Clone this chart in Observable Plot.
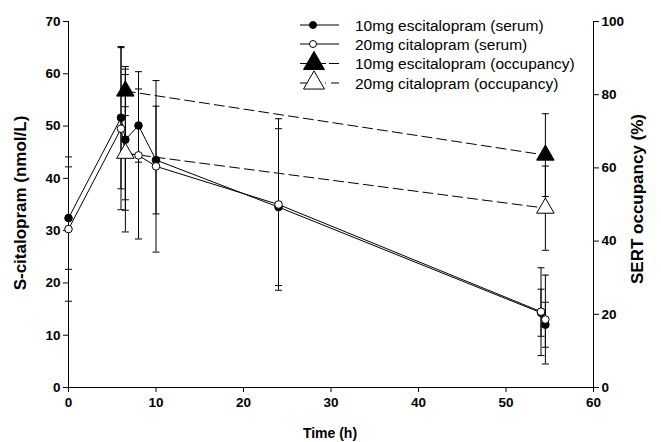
<!DOCTYPE html>
<html><head><meta charset="utf-8">
<script src="https://cdn.jsdelivr.net/npm/d3@7"></script>
<script src="https://cdn.jsdelivr.net/npm/@observablehq/plot@0.6"></script>
<style>
body{margin:0;background:#fff;}
#wrap{position:relative;width:661px;height:442px;font-family:"Liberation Sans",Arial,sans-serif;color:#000;}
.title{position:absolute;white-space:nowrap;font-weight:bold;transform:translate(-50%,-50%);}
.rot{transform:translate(-50%,-50%) rotate(-90deg);}
#legend{position:absolute;left:0;top:0;}
</style>
</head><body><div id="wrap"></div>
<script>
// ---- data ----
const serumTimes = [0, 6, 6.5, 8, 10, 24, 54, 54.5];
const escSerum   = [32.4, 51.6, 47.4, 50.1, 43.5, 34.5, 14.3, 12.0];
const escSerumSD = [9.8, 13.6, 13.5, 7.0, 10.3, 15.0, 4.5, 4.3];
const citSerum   = [30.3, 49.5, 44.8, 44.4, 42.3, 35.0, 14.5, 13.0];
const citSerumSD = [13.8, 15.5, 8.9, 16.0, 16.4, 16.4, 8.4, 8.5];
const occTimes   = [6.5, 54.5];
const escOcc     = [81, 63.5];
const escOccSD   = [6.7, 11.3];
const citOcc     = [64, 49];
const citOccSD   = [21.5, 11.5];
const leftTicks  = [0, 10, 20, 30, 40, 50, 60, 70];
const rightTicks = [0, 20, 40, 60, 80, 100];
const xTicks     = [0, 10, 20, 30, 40, 50, 60];
const seriesNames = ["10mg escitalopram (serum)", "20mg citalopram (serum)",
                     "10mg escitalopram (occupancy)", "20mg citalopram (occupancy)"];
const xLabel = "Time (h)", yLabel = "S-citalopram (nmol/L)", y2Label = "SERT occupancy (%)";

const k = 70 / 100; // occupancy (right axis) -> left axis units
const mk = (ts, vs, sds, f = 1) => ts.map((t, i) => ({t, v: vs[i] * f, sd: sds[i] * f}));
const escS = mk(serumTimes, escSerum, escSerumSD);
const citS = mk(serumTimes, citSerum, citSerumSD);
const escO = mk(occTimes, escOcc, escOccSD, k);
const citO = mk(occTimes, citOcc, citOccSD, k);
const all = [...escS, ...citS, ...escO, ...citO];
const caps = all.flatMap(d => [{t: d.t, y: d.v - d.sd}, {t: d.t, y: d.v + d.sd}]);
const capSym = {draw(ctx, size) { const w = Math.sqrt(size / Math.PI); ctx.moveTo(-w, 0); ctx.lineTo(w, 0); }};

const chart = Plot.plot({
  width: 661, height: 442,
  marginLeft: 68, marginRight: 68, marginTop: 21, marginBottom: 55,
  style: {fontFamily: "Liberation Sans, Arial, sans-serif", fontSize: "13.5px", fontWeight: "bold", color: "black", background: "white"},
  x: {domain: [0, 60]},
  y: {domain: [0, 70]},
  marks: [
    Plot.ruleY([0], {stroke: "black"}),
    Plot.ruleX([0], {stroke: "black"}),
    Plot.ruleX([60], {stroke: "black"}),
    Plot.axisX(xTicks, {anchor: "bottom", tickSize: 5, tickPadding: 5, label: null}),
    Plot.axisY(leftTicks, {anchor: "left", tickSize: 5, tickPadding: 3, label: null}),
    Plot.axisY(rightTicks.map(v => v * k), {anchor: "right", tickSize: 5, tickPadding: 3, label: null, tickFormat: d => Math.round(d / k)}),
    Plot.ruleX(all, {x: "t", y1: d => d.v - d.sd, y2: d => d.v + d.sd, stroke: "black", strokeWidth: 1}),
    Plot.dot(caps, {x: "t", y: "y", symbol: capSym, r: 3.5, stroke: "black", fill: "none", strokeWidth: 1}),
    Plot.line(escS, {x: "t", y: "v", stroke: "black", strokeWidth: 1}),
    Plot.line(citS, {x: "t", y: "v", stroke: "black", strokeWidth: 1}),
    Plot.line(escO, {x: "t", y: "v", stroke: "black", strokeWidth: 1, strokeDasharray: "10,5"}),
    Plot.line(citO, {x: "t", y: "v", stroke: "black", strokeWidth: 1, strokeDasharray: "10,5"}),
    Plot.dot(escS, {x: "t", y: "v", r: 3.8, fill: "black", stroke: "black", strokeWidth: 1}),
    Plot.dot(citS, {x: "t", y: "v", r: 3.8, fill: "white", stroke: "black", strokeWidth: 1}),
    Plot.dot(escO, {x: "t", y: "v", symbol: "triangle", r: 6.5, fill: "black", stroke: "black", strokeWidth: 1}),
    Plot.dot(citO, {x: "t", y: "v", symbol: "triangle", r: 6.5, fill: "white", stroke: "black", strokeWidth: 1})
  ]
});
const wrap = document.getElementById("wrap");
wrap.appendChild(chart);

// axis titles
function title(text, cx, cy, size, rot) {
  const d = document.createElement("div");
  d.className = "title" + (rot ? " rot" : "");
  d.textContent = text;
  d.style.left = cx + "px"; d.style.top = cy + "px"; d.style.fontSize = size + "px";
  wrap.appendChild(d);
}
title(xLabel, 330, 433, 14, false);
title(yLabel, 21, 203, 17, true);
title(y2Label, 638, 199, 17, true);

// legend
const lg = d3.select(wrap).append("svg").attr("id", "legend").attr("width", 661).attr("height", 100);
const rowsY = [25, 44, 63.5, 83];
const dashes = [null, null, "26,3", "20,5,1,5"];
seriesNames.forEach((name, i) => {
  const y = rowsY[i];
  const g = lg.append("g");
  g.append("line").attr("x1", 300).attr("x2", 339).attr("y1", y).attr("y2", y)
    .attr("stroke", "black").attr("stroke-width", 1).attr("stroke-dasharray", dashes[i]);
  if (i < 2) {
    g.append("circle").attr("cx", 313).attr("cy", y).attr("r", 3.5)
      .attr("fill", i === 0 ? "black" : "white").attr("stroke", "black");
  } else {
    g.append("path").attr("d", d3.symbol(d3.symbolTriangle, 190)()).attr("transform", `translate(314,${y})`)
      .attr("fill", i === 2 ? "black" : "white").attr("stroke", "black");
  }
  g.append("text").attr("x", 355).attr("y", y).attr("dy", "0.36em")
    .attr("font-family", "Liberation Sans, Arial, sans-serif").attr("font-size", 15.5).text(name);
});
</script>
</body></html>
